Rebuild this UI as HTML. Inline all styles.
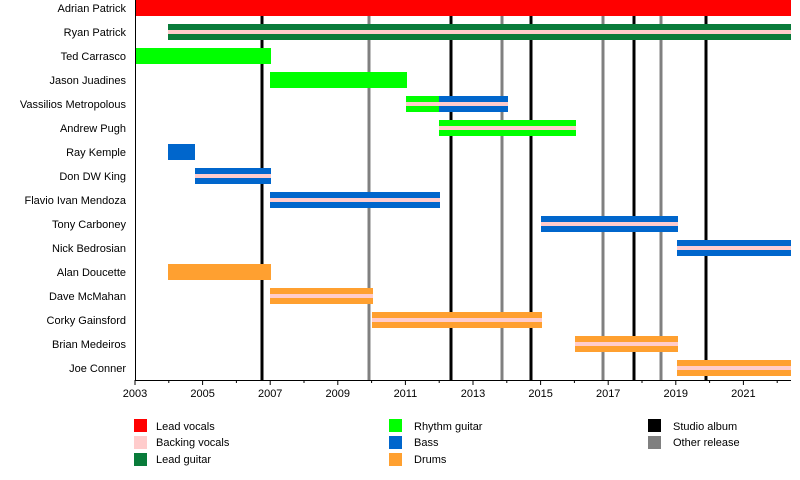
<!DOCTYPE html>
<html><head><meta charset="utf-8"><style>body{margin:0;background:#fff}</style></head><body>
<svg width="800" height="475" xmlns="http://www.w3.org/2000/svg" font-family="Liberation Sans, sans-serif" font-size="11">
<g stroke-width="3">
<line x1="262" y1="0" x2="262" y2="380" stroke="#000"/>
<line x1="451" y1="0" x2="451" y2="380" stroke="#000"/>
<line x1="531" y1="0" x2="531" y2="380" stroke="#000"/>
<line x1="634" y1="0" x2="634" y2="380" stroke="#000"/>
<line x1="706" y1="0" x2="706" y2="380" stroke="#000"/>
<line x1="369" y1="0" x2="369" y2="380" stroke="#808080"/>
<line x1="502" y1="0" x2="502" y2="380" stroke="#808080"/>
<line x1="603" y1="0" x2="603" y2="380" stroke="#808080"/>
<line x1="661" y1="0" x2="661" y2="380" stroke="#808080"/>
</g>
<g>
<rect x="135" y="0" width="656" height="16" fill="#f00"/>
<rect x="168" y="24" width="623" height="16" fill="#097b3a"/>
<rect x="135" y="48" width="136" height="16" fill="#0f0"/>
<rect x="270" y="72" width="137" height="16" fill="#0f0"/>
<rect x="406" y="96" width="33" height="16" fill="#0f0"/>
<rect x="439" y="96" width="69" height="16" fill="#0066cc"/>
<rect x="439" y="120" width="137" height="16" fill="#0f0"/>
<rect x="168" y="144" width="27" height="16" fill="#0066cc"/>
<rect x="195" y="168" width="76" height="16" fill="#0066cc"/>
<rect x="270" y="192" width="170" height="16" fill="#0066cc"/>
<rect x="541" y="216" width="137" height="16" fill="#0066cc"/>
<rect x="677" y="240" width="114" height="16" fill="#0066cc"/>
<rect x="168" y="264" width="103" height="16" fill="#ffa030"/>
<rect x="270" y="288" width="103" height="16" fill="#ffa030"/>
<rect x="372" y="312" width="170" height="16" fill="#ffa030"/>
<rect x="575" y="336" width="103" height="16" fill="#ffa030"/>
<rect x="677" y="360" width="114" height="16" fill="#ffa030"/>
</g>
<g fill="#fcc">
<rect x="168" y="30" width="623" height="4"/>
<rect x="406" y="102" width="102" height="4"/>
<rect x="439" y="126" width="137" height="4"/>
<rect x="195" y="174" width="76" height="4"/>
<rect x="270" y="198" width="170" height="4"/>
<rect x="541" y="222" width="137" height="4"/>
<rect x="677" y="246" width="114" height="4"/>
<rect x="270" y="294" width="103" height="4"/>
<rect x="372" y="318" width="170" height="4"/>
<rect x="575" y="342" width="103" height="4"/>
<rect x="677" y="366" width="114" height="4"/>
</g>
<line x1="135.5" y1="0" x2="135.5" y2="380" stroke="#000"/>
<line x1="135" y1="380.5" x2="791" y2="380.5" stroke="#000"/>
<g stroke="#000">
<path d="M135 380v5M168.8 380v3M202.6 380v5M236.4 380v3M270.2 380v5M304 380v3M337.8 380v5M371.6 380v3M405.4 380v5M439.2 380v3M473 380v5M506.8 380v3M540.6 380v5M574.4 380v3M608.2 380v5M642 380v3M675.8 380v5M709.6 380v3M743.4 380v5M777.2 380v3"/>
</g>
<g text-anchor="middle">
<text x="135" y="397">2003</text><text x="202.6" y="397">2005</text><text x="270.2" y="397">2007</text><text x="337.8" y="397">2009</text><text x="405.4" y="397">2011</text><text x="473" y="397">2013</text><text x="540.6" y="397">2015</text><text x="608.2" y="397">2017</text><text x="675.8" y="397">2019</text><text x="743.4" y="397">2021</text>
</g>
<g text-anchor="end">
<text x="126" y="12">Adrian Patrick</text>
<text x="126" y="36">Ryan Patrick</text>
<text x="126" y="60">Ted Carrasco</text>
<text x="126" y="84">Jason Juadines</text>
<text x="126" y="108">Vassilios Metropolous</text>
<text x="126" y="132">Andrew Pugh</text>
<text x="126" y="156">Ray Kemple</text>
<text x="126" y="180">Don DW King</text>
<text x="126" y="204">Flavio Ivan Mendoza</text>
<text x="126" y="228">Tony Carboney</text>
<text x="126" y="252">Nick Bedrosian</text>
<text x="126" y="276">Alan Doucette</text>
<text x="126" y="300">Dave McMahan</text>
<text x="126" y="324">Corky Gainsford</text>
<text x="126" y="348">Brian Medeiros</text>
<text x="126" y="372">Joe Conner</text>
</g>
<rect x="134" y="419" width="13" height="13" fill="#f00"/>
<rect x="134" y="436" width="13" height="13" fill="#fcc"/>
<rect x="134" y="453" width="13" height="13" fill="#097b3a"/>
<text x="156" y="430">Lead vocals</text><text x="156" y="446">Backing vocals</text><text x="156" y="463">Lead guitar</text>
<rect x="389" y="419" width="13" height="13" fill="#0f0"/>
<rect x="389" y="436" width="13" height="13" fill="#0066cc"/>
<rect x="389" y="453" width="13" height="13" fill="#ffa030"/>
<text x="414" y="430">Rhythm guitar</text><text x="414" y="446">Bass</text><text x="414" y="463">Drums</text>
<rect x="648" y="419" width="13" height="13" fill="#000"/>
<rect x="648" y="436" width="13" height="13" fill="#808080"/>
<text x="673" y="430">Studio album</text><text x="673" y="446">Other release</text>
</svg>
</body></html>
